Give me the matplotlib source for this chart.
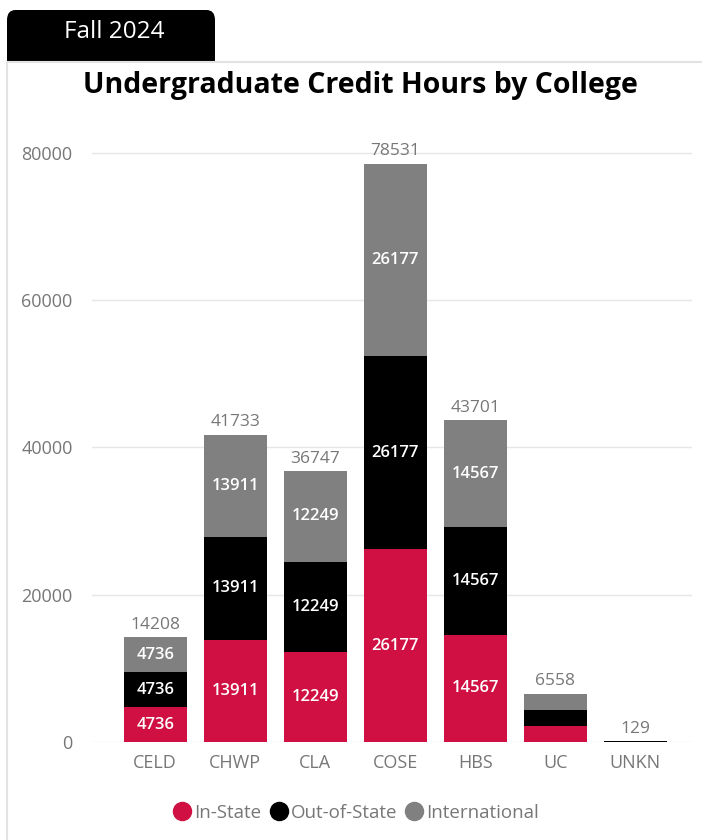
import numpy as np
import matplotlib.pyplot as plt
from matplotlib.patches import FancyBboxPatch, Rectangle
from matplotlib.lines import Line2D

plt.rcParams['font.family'] = ['Open Sans', 'DejaVu Sans']

colleges = ["CELD", "CHWP", "CLA", "COSE", "HBS", "UC", "UNKN"]
in_state = [4736, 13911, 12249, 26177, 14567, 2186, 43]
out_state = [4736, 13911, 12249, 26177, 14567, 2186, 43]
international = [4736, 13911, 12249, 26177, 14567, 2186, 43]
totals = [14208, 41733, 36747, 78531, 43701, 6558, 129]
series_names = ["In-State", "Out-of-State", "International"]

red = "#D01042"
black = "#000000"
gray = "#808080"
txt_gray = "#777777"

fig = plt.figure(figsize=(7.02, 8.4), dpi=100)
W, H = 702, 840

def fx(px):
    return px / W

def fy(py):
    return 1 - py / H

# panel borders
fig.add_artist(Line2D([fx(7), fx(7)], [fy(62), 0], color="#e3e3e3", lw=1.5))
fig.add_artist(Line2D([fx(7), 1], [fy(62), fy(62)], color="#e3e3e3", lw=1.5))

# tab
tab = FancyBboxPatch((fx(7), fy(62)), fx(208), (62 - 10) / H,
                     boxstyle="round,pad=0,rounding_size=0.012",
                     transform=fig.transFigure, fc="black", ec="none")
fig.add_artist(tab)
fig.add_artist(Rectangle((fx(7), fy(62)), fx(208), 20 / H,
                         transform=fig.transFigure, fc="black", ec="none"))
fig.text(fx(114), fy(32), "Fall 2024", color="white", fontsize=17.5,
         ha="center", va="center")

fig.text(fx(360), fy(85), "Undergraduate Credit Hours by College",
         fontsize=20.5, fontweight="bold", ha="center", va="center")

ax = fig.add_axes([fx(92), fy(742), fx(600), (742 - 116) / H])
x = np.arange(len(colleges))
w = 0.79
ins = np.array(in_state)
outs = np.array(out_state)
intl = np.array(international)
ax.bar(x, ins, w, color=red, label=series_names[0])
ax.bar(x, outs, w, bottom=ins, color=black, label=series_names[1])
ax.bar(x, intl, w, bottom=ins + outs, color=gray, label=series_names[2])

lab_kw = dict(color="white", ha="center", va="center", fontsize=12, fontweight="semibold")
for i in range(len(colleges)):
    if totals[i] > 10000:
        ax.text(x[i], ins[i] / 2, str(in_state[i]), **lab_kw)
        ax.text(x[i], ins[i] + outs[i] / 2, str(out_state[i]), **lab_kw)
        ax.text(x[i], ins[i] + outs[i] + intl[i] / 2, str(international[i]), **lab_kw)
    ax.text(x[i], totals[i] + 600, str(totals[i]), color=txt_gray,
            ha="center", va="bottom", fontsize=12.5)

ax.set_ylim(0, 85000)
ax.set_xlim(-0.79, 6.71)
ax.set_yticks([0, 20000, 40000, 60000, 80000])
ax.set_xticks(x)
ax.set_xticklabels(colleges)
ax.tick_params(axis="both", length=0, colors=txt_gray, labelsize=13)
ax.tick_params(axis="x", pad=9)
ax.tick_params(axis="y", pad=14)
ax.grid(axis="y", color="#e6e6e6", lw=1)
ax.set_axisbelow(True)
for s in ax.spines.values():
    s.set_visible(False)

handles = [Line2D([], [], marker="o", ls="", ms=13, color=c) for c in (red, black, gray)]
leg = fig.legend(handles, series_names, loc="center", bbox_to_anchor=(fx(356), fy(813)),
                 ncol=3, frameon=False, fontsize=13.5, handletextpad=0.15,
                 columnspacing=0.4, handlelength=1.0)
for t in leg.get_texts():
    t.set_color(txt_gray)

fig.savefig("out.png", dpi=100)
